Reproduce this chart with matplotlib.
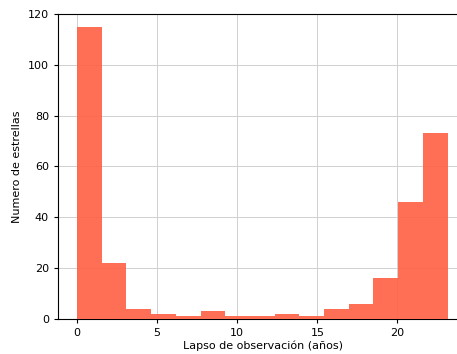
import numpy as np
import matplotlib
matplotlib.use("Agg")
import matplotlib.pyplot as plt

# cuentas por bin
counts = [115, 22, 4, 2, 1, 3, 1, 1, 2, 1, 4, 6, 16, 46, 73]
span_max = 23.13
edges = np.linspace(0, span_max, len(counts) + 1)
xticks = [0, 5, 10, 15, 20]
yticks = [0, 20, 40, 60, 80, 100, 120]

fig = plt.figure(figsize=(4.57, 3.54), dpi=100)
ax = fig.add_axes([0.127, 0.099, 0.897, 0.862])

ax.hist(edges[:-1], bins=edges, weights=counts, color='tomato', alpha=0.92, zorder=3)
ax.grid(True, color='#d0d0d0', linewidth=0.7, zorder=1)
ax.set_axisbelow(True)

ax.set_xlim(-1.18, 24.4)
ax.set_ylim(0, 120)
ax.set_xticks(xticks)
ax.set_yticks(yticks)
ax.tick_params(labelsize=8, length=3)

ax.set_xlabel('Lapso de observación (años)', fontsize=8, labelpad=2)
ax.set_ylabel('Numero de estrellas', fontsize=8, labelpad=4)

fig.savefig('out.png', dpi=100)
